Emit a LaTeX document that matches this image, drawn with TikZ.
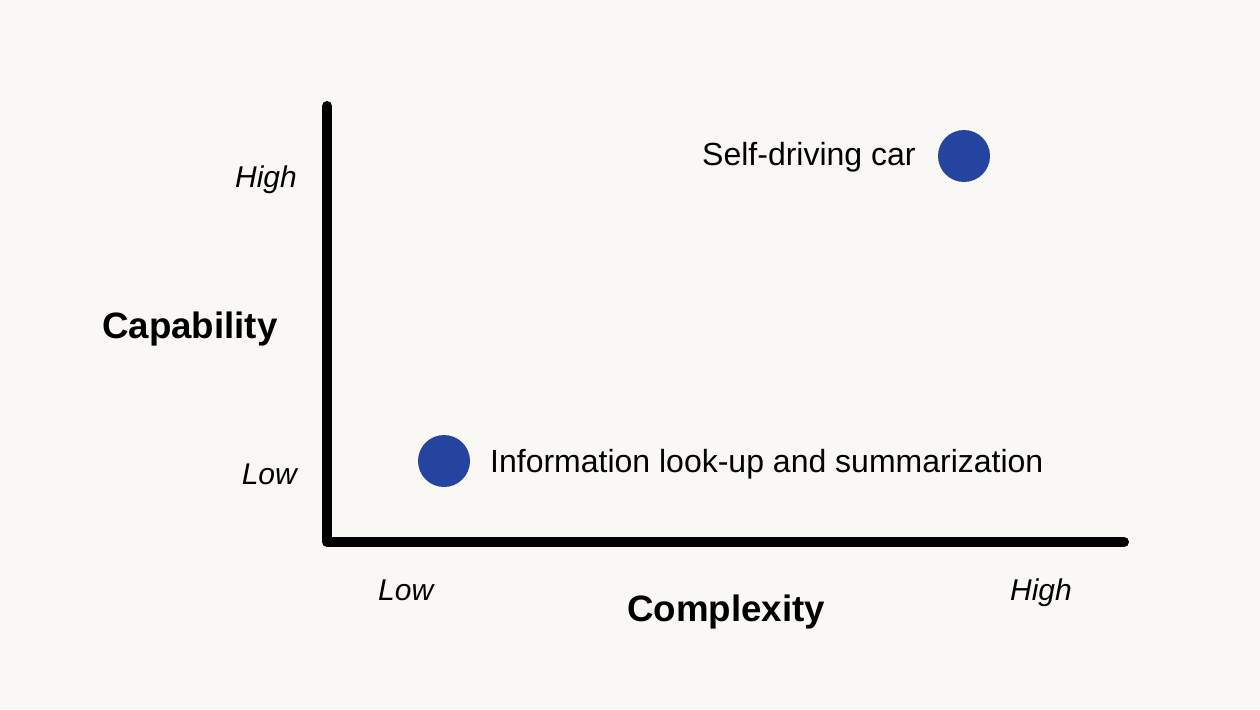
\documentclass[tikz,border=0pt]{standalone}
\usepackage{fontspec}
\setmainfont{Liberation Sans}
\definecolor{bgc}{HTML}{F9F8F5}
\definecolor{dotc}{HTML}{2444A0}
\tikzset{
  axisline/.style={line width=10pt, line cap=round, line join=round, black},
  dotmark/.style={circle, fill=dotc, minimum size=52pt, inner sep=0pt},
  ticklabel/.style={inner sep=0pt, font=\fontsize{30}{36}\selectfont\itshape},
  axistitle/.style={inner sep=0pt, font=\fontsize{36.7}{44}\selectfont\bfseries},
  pointlabel/.style={inner sep=0pt, font=\fontsize{32}{38}\selectfont}
}
\begin{document}
\begin{tikzpicture}[x=1pt,y=-1pt]
\fill[bgc] (0,0) rectangle (1260,709);
\useasboundingbox (0,0) rectangle (1260,709);
\coordinate (ytop) at (327,106);
\coordinate (origin) at (327,542);
\coordinate (xend) at (1124,542);
\draw[axisline] (ytop) -- (origin) -- (xend);
\node[dotmark] (p1) at (444,461) {};
\node[dotmark] (p2) at (964,156) {};
\node[pointlabel, anchor=base west] (l1) at (490,472) {Information look-up and summarization};
\node[pointlabel, anchor=base west] (l2) at (702,165) {Self-driving car};
\node[ticklabel, anchor=base east] (yhigh) at (297,187) {High};
\node[ticklabel, anchor=base east] (ylow) at (297,484) {Low};
\node[ticklabel, anchor=base west] (xlow) at (378,600) {Low};
\node[ticklabel, anchor=base east] (xhigh) at (1072,600) {High};
\node[axistitle, anchor=base west] (ytitle) at (102,338) {Capability};
\node[axistitle, anchor=base west] (xtitle) at (627,621) {Complexity};
\end{tikzpicture}
\end{document}
